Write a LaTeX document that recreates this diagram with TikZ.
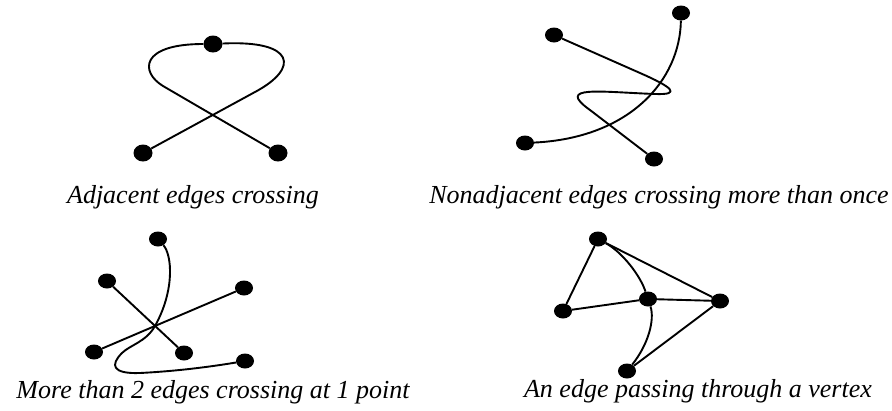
\documentclass[tikz,border=0pt]{standalone}
\usepackage{fontspec}
\setmainfont{Liberation Serif}
\usetikzlibrary{shapes.geometric}
\tikzset{
  vtx/.style={ellipse, fill=black, draw=none, minimum width=18pt, minimum height=15pt, inner sep=0pt},
  bigvtx/.style={vtx, minimum width=19pt, minimum height=17pt},
  edge/.style={draw=black, line width=1.9pt, line join=round},
  caption/.style={anchor=base, inner sep=0pt, font=\fontsize{26}{30}\selectfont\itshape}
}
\begin{document}
\begin{tikzpicture}[x=1pt,y=-1pt]
\useasboundingbox (0,0) rectangle (892,410);

% ---------- Panel 1: adjacent edges crossing ----------
\node[bigvtx] (T1) at (213,44) {};
\node[bigvtx] (L1) at (143,153) {};
\node[bigvtx] (R1) at (278,153) {};
\coordinate (a1) at (255,92);
\coordinate (a2) at (163,86);
\draw[edge] (L1) -- (a1) .. controls (300,68) and (295,40) .. (T1);
\draw[edge] (R1) -- (a2) .. controls (140,72) and (140,44) .. (T1);
\node[caption] (cap1) at (193,203) {Adjacent edges crossing};

% ---------- Panel 2: nonadjacent edges crossing more than once ----------
\node[vtx] (TR2) at (681,13) {};
\node[vtx] (UL2) at (554,35) {};
\node[vtx] (BL2) at (525,143) {};
\node[vtx] (BR2) at (654,159) {};
\coordinate (b1) at (640,73);
\coordinate (b2) at (655,94);
\coordinate (b3) at (590,110);
\draw[edge] (TR2) .. controls (680,80) and (630,138) .. (BL2);
\draw[edge] (UL2) -- (b1) .. controls (672,87) and (682,95) .. (b2)
  .. controls (600,92) and (555,85) .. (b3) -- (BR2);
\node[caption] (cap2) at (659,203) {Nonadjacent edges crossing more than once};

% ---------- Panel 3: more than 2 edges crossing at 1 point ----------
\node[vtx] (T3) at (158,239) {};
\node[vtx] (LU3) at (107,281) {};
\node[vtx] (RU3) at (244,288) {};
\node[vtx] (BL3) at (94,352) {};
\node[vtx] (BM3) at (184,353) {};
\node[vtx] (BR3) at (245,361) {};
\coordinate (c1) at (155,326);
\coordinate (c2) at (122,353);
\coordinate (c3) at (140,373);
\draw[edge] (LU3) -- (BM3);
\draw[edge] (BL3) -- (RU3);
\draw[edge] (T3) .. controls (172,255) and (175,290) .. (c1)
  .. controls (146,342) and (130,345) .. (c2)
  .. controls (110,365) and (112,374) .. (c3)
  .. controls (180,371) and (215,366) .. (BR3);
\node[caption] (cap3) at (213,398) {More than 2 edges crossing at 1 point};

% ---------- Panel 4: an edge passing through a vertex ----------
\node[vtx] (T4) at (598,239) {};
\node[vtx] (L4) at (563,311) {};
\node[vtx] (C4) at (648,299) {};
\node[vtx] (R4) at (720,301) {};
\node[vtx] (B4) at (627,371) {};
\draw[edge] (T4) -- (L4);
\draw[edge] (L4) -- (C4);
\draw[edge] (C4) -- (R4);
\draw[edge] (T4) -- (R4);
\draw[edge] (R4) -- (B4);
\draw[edge] (T4) .. controls (622,252) and (640,275) .. (C4);
\draw[edge] (C4) .. controls (655,320) and (648,345) .. (B4);
\node[caption] (cap4) at (698,397) {An edge passing through a vertex};
\end{tikzpicture}
\end{document}
